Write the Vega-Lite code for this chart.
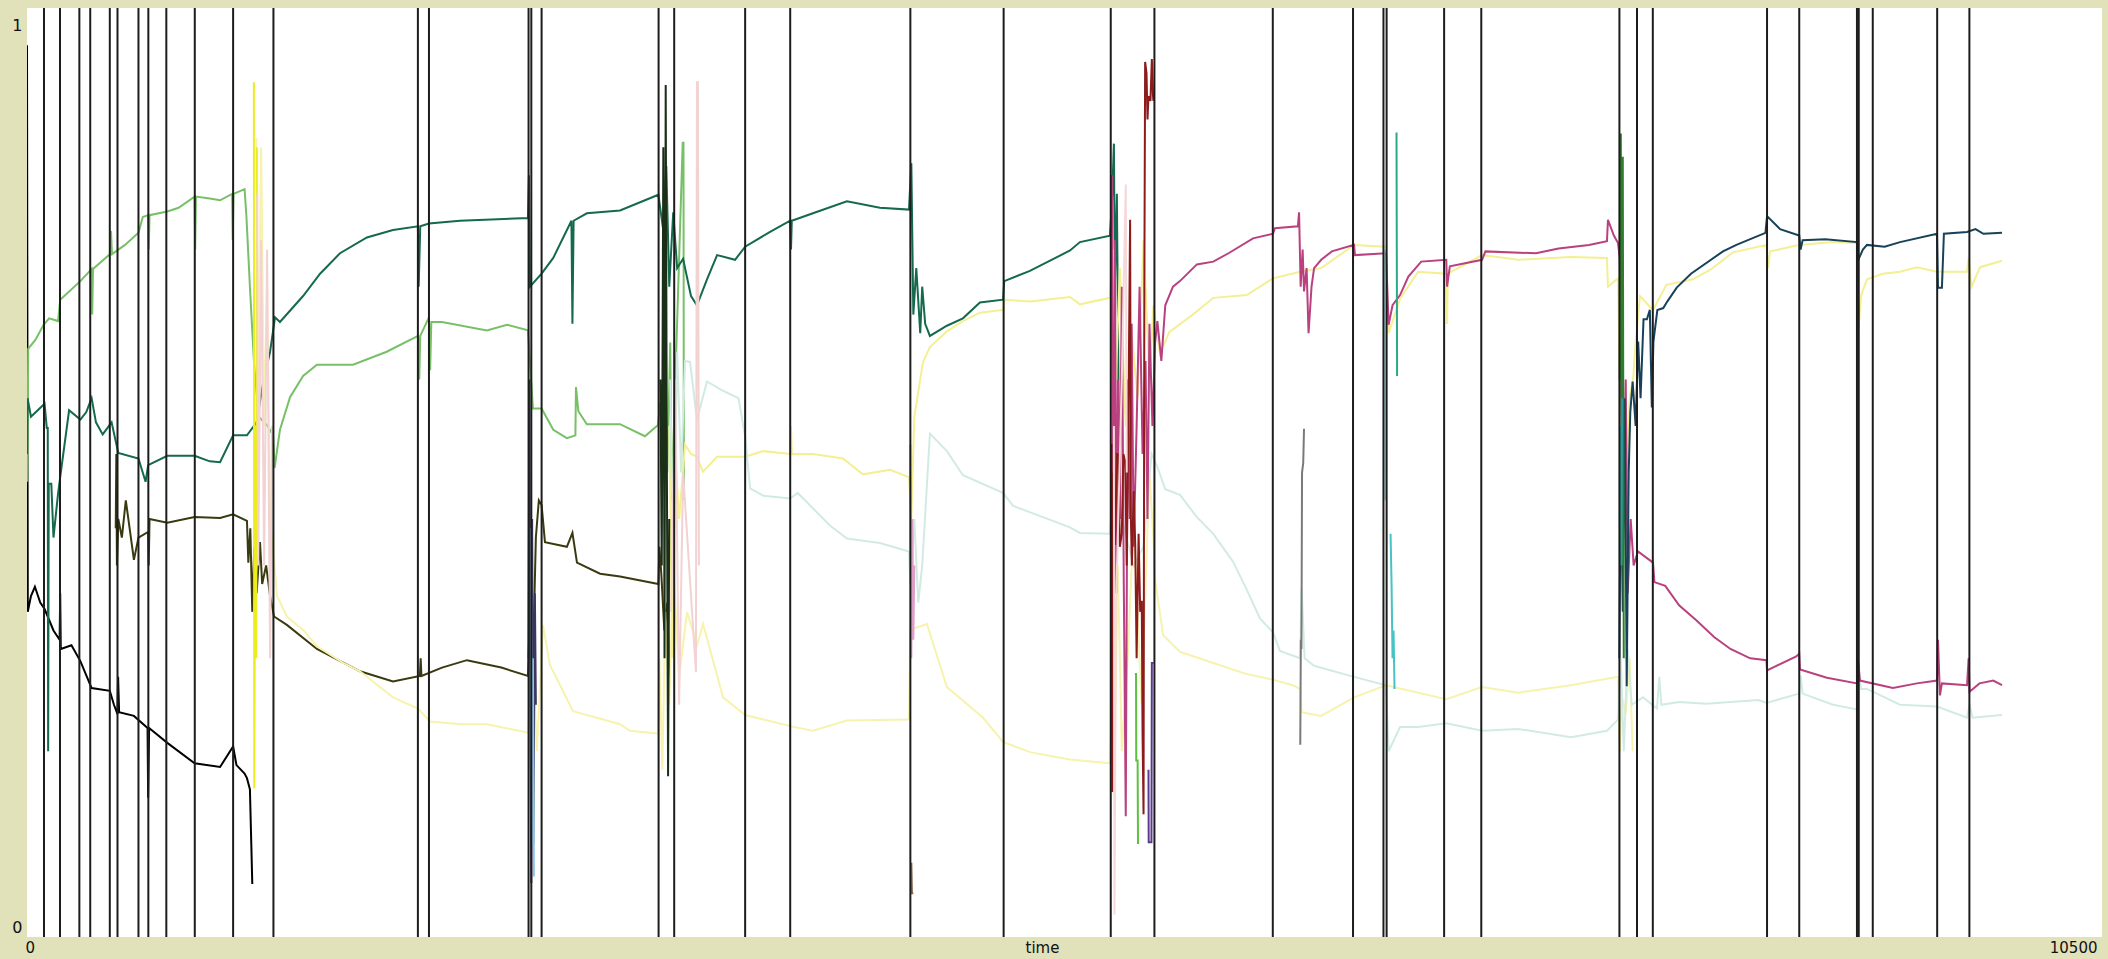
{
"$schema": "https://vega.github.io/schema/vega-lite/v6.json",
"width": 2075, "height": 929,
"autosize": {"type": "none"},
"padding": {"left": 27, "top": 8, "right": 6, "bottom": 22},
"background": "#e1e1ba",
"config": {"view": {"fill": "white", "stroke": null}},
"datasets": {
"events": [{"t":86},{"t":167},{"t":265},{"t":320},{"t":419},{"t":458},{"t":564},{"t":614},{"t":705},{"t":849},{"t":1043},{"t":1247},{"t":1978},{"t":2034},{"t":2538},{"t":2552},{"t":2604},{"t":3196},{"t":3275},{"t":3634},{"t":3862},{"t":4470},{"t":4942},{"t":5484},{"t":5705},{"t":6304},{"t":6710},{"t":6864},{"t":6880},{"t":7171},{"t":7359},{"t":8058},{"t":8147},{"t":8227},{"t":8805},{"t":8968},{"t":9260},{"t":9269},{"t":9340},{"t":9666},{"t":9829}],
"series": [
{"s":"black","t":0,"v":0.96},{"s":"black","t":4,"v":0.35},{"s":"black","t":20,"v":0.367},{"s":"black","t":40,"v":0.377},{"s":"black","t":67,"v":0.36},{"s":"black","t":89,"v":0.353},{"s":"black","t":134,"v":0.33},{"s":"black","t":165,"v":0.32},{"s":"black","t":168,"v":0.37},{"s":"black","t":171,"v":0.31},{"s":"black","t":225,"v":0.314},{"s":"black","t":270,"v":0.297},{"s":"black","t":327,"v":0.268},{"s":"black","t":419,"v":0.265},{"s":"black","t":440,"v":0.25},{"s":"black","t":458,"v":0.24},{"s":"black","t":461,"v":0.28},{"s":"black","t":466,"v":0.242},{"s":"black","t":541,"v":0.238},{"s":"black","t":610,"v":0.225},{"s":"black","t":613,"v":0.15},{"s":"black","t":618,"v":0.225},{"s":"black","t":710,"v":0.209},{"s":"black","t":848,"v":0.187},{"s":"black","t":977,"v":0.183},{"s":"black","t":1043,"v":0.205},{"s":"black","t":1060,"v":0.185},{"s":"black","t":1101,"v":0.176},{"s":"black","t":1113,"v":0.171},{"s":"black","t":1128,"v":0.159},{"s":"black","t":1135,"v":0.1},{"s":"black","t":1140,"v":0.057},
{"s":"lgreen","t":0,"v":0.58},{"s":"lgreen","t":2,"v":0.49},{"s":"lgreen","t":6,"v":0.633},{"s":"lgreen","t":43,"v":0.643},{"s":"lgreen","t":84,"v":0.659},{"s":"lgreen","t":112,"v":0.666},{"s":"lgreen","t":157,"v":0.663},{"s":"lgreen","t":168,"v":0.686},{"s":"lgreen","t":270,"v":0.706},{"s":"lgreen","t":327,"v":0.719},{"s":"lgreen","t":330,"v":0.67},{"s":"lgreen","t":334,"v":0.719},{"s":"lgreen","t":419,"v":0.735},{"s":"lgreen","t":425,"v":0.76},{"s":"lgreen","t":430,"v":0.735},{"s":"lgreen","t":496,"v":0.745},{"s":"lgreen","t":564,"v":0.758},{"s":"lgreen","t":586,"v":0.775},{"s":"lgreen","t":613,"v":0.777},{"s":"lgreen","t":616,"v":0.74},{"s":"lgreen","t":620,"v":0.777},{"s":"lgreen","t":710,"v":0.781},{"s":"lgreen","t":767,"v":0.785},{"s":"lgreen","t":848,"v":0.797},{"s":"lgreen","t":851,"v":0.74},{"s":"lgreen","t":855,"v":0.797},{"s":"lgreen","t":925,"v":0.795},{"s":"lgreen","t":977,"v":0.793},{"s":"lgreen","t":1038,"v":0.8},{"s":"lgreen","t":1041,"v":0.75},{"s":"lgreen","t":1045,"v":0.8},{"s":"lgreen","t":1101,"v":0.805},{"s":"lgreen","t":1110,"v":0.777},{"s":"lgreen","t":1128,"v":0.7},{"s":"lgreen","t":1150,"v":0.613},{"s":"lgreen","t":1173,"v":0.56},{"s":"lgreen","t":1218,"v":0.55},{"s":"lgreen","t":1245,"v":0.54},{"s":"lgreen","t":1253,"v":0.505},{"s":"lgreen","t":1280,"v":0.546},{"s":"lgreen","t":1331,"v":0.581},{"s":"lgreen","t":1397,"v":0.604},{"s":"lgreen","t":1467,"v":0.616},{"s":"lgreen","t":1650,"v":0.616},{"s":"lgreen","t":1820,"v":0.63},{"s":"lgreen","t":1979,"v":0.647},{"s":"lgreen","t":1985,"v":0.6},{"s":"lgreen","t":1990,"v":0.647},{"s":"lgreen","t":2034,"v":0.667},{"s":"lgreen","t":2040,"v":0.61},{"s":"lgreen","t":2046,"v":0.662},{"s":"lgreen","t":2100,"v":0.662},{"s":"lgreen","t":2327,"v":0.653},{"s":"lgreen","t":2429,"v":0.659},{"s":"lgreen","t":2535,"v":0.653},{"s":"lgreen","t":2560,"v":0.569},{"s":"lgreen","t":2604,"v":0.569},{"s":"lgreen","t":2663,"v":0.546},{"s":"lgreen","t":2732,"v":0.537},{"s":"lgreen","t":2775,"v":0.54},{"s":"lgreen","t":2778,"v":0.592},{"s":"lgreen","t":2790,"v":0.566},{"s":"lgreen","t":2833,"v":0.552},{"s":"lgreen","t":3001,"v":0.552},{"s":"lgreen","t":3127,"v":0.539},{"s":"lgreen","t":3193,"v":0.551},{"s":"lgreen","t":3203,"v":0.574},{"s":"lgreen","t":3230,"v":0.58},{"s":"lgreen","t":3240,"v":0.5},{"s":"lgreen","t":3255,"v":0.64},{"s":"lgreen","t":3262,"v":0.47},{"s":"lgreen","t":3318,"v":0.855},{"s":"lgreen","t":3322,"v":0.855},{"s":"lgreen","t":3324,"v":0.47},
{"s":"teal","t":0,"v":0.52},{"s":"teal","t":3,"v":0.58},{"s":"teal","t":20,"v":0.56},{"s":"teal","t":89,"v":0.574},{"s":"teal","t":100,"v":0.548},{"s":"teal","t":105,"v":0.548},{"s":"teal","t":107,"v":0.2},{"s":"teal","t":110,"v":0.488},{"s":"teal","t":123,"v":0.488},{"s":"teal","t":134,"v":0.43},{"s":"teal","t":157,"v":0.477},{"s":"teal","t":168,"v":0.495},{"s":"teal","t":213,"v":0.567},{"s":"teal","t":270,"v":0.557},{"s":"teal","t":300,"v":0.565},{"s":"teal","t":327,"v":0.58},{"s":"teal","t":349,"v":0.554},{"s":"teal","t":383,"v":0.541},{"s":"teal","t":428,"v":0.554},{"s":"teal","t":462,"v":0.521},{"s":"teal","t":564,"v":0.515},{"s":"teal","t":600,"v":0.49},{"s":"teal","t":613,"v":0.508},{"s":"teal","t":710,"v":0.518},{"s":"teal","t":848,"v":0.518},{"s":"teal","t":925,"v":0.512},{"s":"teal","t":977,"v":0.511},{"s":"teal","t":1043,"v":0.54},{"s":"teal","t":1113,"v":0.54},{"s":"teal","t":1162,"v":0.554},{"s":"teal","t":1196,"v":0.598},{"s":"teal","t":1230,"v":0.63},{"s":"teal","t":1255,"v":0.667},{"s":"teal","t":1280,"v":0.662},{"s":"teal","t":1397,"v":0.69},{"s":"teal","t":1483,"v":0.714},{"s":"teal","t":1584,"v":0.736},{"s":"teal","t":1720,"v":0.753},{"s":"teal","t":1852,"v":0.761},{"s":"teal","t":1978,"v":0.765},{"s":"teal","t":1982,"v":0.7},{"s":"teal","t":1990,"v":0.765},{"s":"teal","t":2034,"v":0.768},{"s":"teal","t":2191,"v":0.771},{"s":"teal","t":2535,"v":0.774},{"s":"teal","t":2540,"v":0.82},{"s":"teal","t":2545,"v":0.7},{"s":"teal","t":2604,"v":0.714},{"s":"teal","t":2663,"v":0.731},{"s":"teal","t":2755,"v":0.771},{"s":"teal","t":2760,"v":0.66},{"s":"teal","t":2766,"v":0.771},{"s":"teal","t":2833,"v":0.779},{"s":"teal","t":3001,"v":0.782},{"s":"teal","t":3195,"v":0.799},{"s":"teal","t":3220,"v":0.76},{"s":"teal","t":3235,"v":0.83},{"s":"teal","t":3250,"v":0.7},{"s":"teal","t":3270,"v":0.78},{"s":"teal","t":3290,"v":0.72},{"s":"teal","t":3320,"v":0.73},{"s":"teal","t":3360,"v":0.69},{"s":"teal","t":3390,"v":0.68},{"s":"teal","t":3441,"v":0.708},{"s":"teal","t":3492,"v":0.734},{"s":"teal","t":3583,"v":0.729},{"s":"teal","t":3634,"v":0.743},{"s":"teal","t":3760,"v":0.759},{"s":"teal","t":3862,"v":0.771},{"s":"teal","t":3866,"v":0.74},{"s":"teal","t":3870,"v":0.771},{"s":"teal","t":3977,"v":0.779},{"s":"teal","t":4149,"v":0.792},{"s":"teal","t":4316,"v":0.785},{"s":"teal","t":4463,"v":0.783},{"s":"teal","t":4475,"v":0.833},{"s":"teal","t":4485,"v":0.67},{"s":"teal","t":4500,"v":0.72},{"s":"teal","t":4520,"v":0.65},{"s":"teal","t":4530,"v":0.7},{"s":"teal","t":4545,"v":0.66},{"s":"teal","t":4569,"v":0.647},{"s":"teal","t":4655,"v":0.658},{"s":"teal","t":4736,"v":0.666},{"s":"teal","t":4822,"v":0.683},{"s":"teal","t":4939,"v":0.686},{"s":"teal","t":4945,"v":0.706},{"s":"teal","t":5075,"v":0.717},{"s":"teal","t":5278,"v":0.739},{"s":"teal","t":5328,"v":0.748},{"s":"teal","t":5480,"v":0.755},{"s":"teal","t":5490,"v":0.79},{"s":"teal","t":5500,"v":0.854},{"s":"teal","t":5505,"v":0.7},{"s":"teal","t":5515,"v":0.8},{"s":"teal","t":5525,"v":0.549},
{"s":"olive","t":449,"v":0.44},{"s":"olive","t":452,"v":0.52},{"s":"olive","t":455,"v":0.4},{"s":"olive","t":462,"v":0.45},{"s":"olive","t":480,"v":0.43},{"s":"olive","t":500,"v":0.47},{"s":"olive","t":541,"v":0.406},{"s":"olive","t":564,"v":0.43},{"s":"olive","t":613,"v":0.436},{"s":"olive","t":616,"v":0.4},{"s":"olive","t":620,"v":0.45},{"s":"olive","t":710,"v":0.446},{"s":"olive","t":848,"v":0.452},{"s":"olive","t":977,"v":0.451},{"s":"olive","t":1043,"v":0.455},{"s":"olive","t":1113,"v":0.448},{"s":"olive","t":1120,"v":0.403},{"s":"olive","t":1130,"v":0.44},{"s":"olive","t":1140,"v":0.35},{"s":"olive","t":1150,"v":0.42},{"s":"olive","t":1162,"v":0.37},{"s":"olive","t":1179,"v":0.425},{"s":"olive","t":1190,"v":0.38},{"s":"olive","t":1210,"v":0.4},{"s":"olive","t":1230,"v":0.367},{"s":"olive","t":1250,"v":0.345},{"s":"olive","t":1315,"v":0.336},{"s":"olive","t":1467,"v":0.31},{"s":"olive","t":1685,"v":0.286},{"s":"olive","t":1852,"v":0.275},{"s":"olive","t":1988,"v":0.281},{"s":"olive","t":1992,"v":0.3},{"s":"olive","t":1996,"v":0.281},{"s":"olive","t":2100,"v":0.29},{"s":"olive","t":2226,"v":0.298},{"s":"olive","t":2400,"v":0.29},{"s":"olive","t":2535,"v":0.281},{"s":"olive","t":2545,"v":0.35},{"s":"olive","t":2555,"v":0.25},{"s":"olive","t":2575,"v":0.43},{"s":"olive","t":2590,"v":0.47},{"s":"olive","t":2604,"v":0.465},{"s":"olive","t":2621,"v":0.425},{"s":"olive","t":2732,"v":0.42},{"s":"olive","t":2760,"v":0.435},{"s":"olive","t":2783,"v":0.403},{"s":"olive","t":2900,"v":0.391},{"s":"olive","t":3001,"v":0.388},{"s":"olive","t":3195,"v":0.38},{"s":"olive","t":3200,"v":0.42},{"s":"olive","t":3210,"v":0.39},{"s":"olive","t":3225,"v":0.33},{"s":"olive","t":3240,"v":0.36},{"s":"olive","t":3250,"v":0.28},
{"s":"ylow","t":1160,"v":0.86},{"s":"ylow","t":1170,"v":0.6},{"s":"ylow","t":1185,"v":0.85},{"s":"ylow","t":1200,"v":0.55},{"s":"ylow","t":1215,"v":0.7},{"s":"ylow","t":1230,"v":0.45},{"s":"ylow","t":1245,"v":0.42},{"s":"ylow","t":1265,"v":0.367},{"s":"ylow","t":1315,"v":0.345},{"s":"ylow","t":1400,"v":0.33},{"s":"ylow","t":1467,"v":0.313},{"s":"ylow","t":1600,"v":0.295},{"s":"ylow","t":1685,"v":0.286},{"s":"ylow","t":1852,"v":0.258},{"s":"ylow","t":1979,"v":0.246},{"s":"ylow","t":2039,"v":0.232},{"s":"ylow","t":2200,"v":0.229},{"s":"ylow","t":2327,"v":0.229},{"s":"ylow","t":2535,"v":0.22},{"s":"ylow","t":2560,"v":0.3},{"s":"ylow","t":2580,"v":0.2},{"s":"ylow","t":2611,"v":0.336},{"s":"ylow","t":2646,"v":0.293},{"s":"ylow","t":2763,"v":0.243},{"s":"ylow","t":3001,"v":0.229},{"s":"ylow","t":3051,"v":0.222},{"s":"ylow","t":3193,"v":0.219},{"s":"ylow","t":3200,"v":0.3},{"s":"ylow","t":3215,"v":0.18},{"s":"ylow","t":3230,"v":0.35},{"s":"ylow","t":3250,"v":0.25},{"s":"ylow","t":3270,"v":0.4},{"s":"ylow","t":3300,"v":0.28},{"s":"ylow","t":3340,"v":0.35},{"s":"ylow","t":3390,"v":0.314},{"s":"ylow","t":3421,"v":0.337},{"s":"ylow","t":3522,"v":0.258},{"s":"ylow","t":3634,"v":0.239},{"s":"ylow","t":3862,"v":0.227},{"s":"ylow","t":3977,"v":0.222},{"s":"ylow","t":4149,"v":0.233},{"s":"ylow","t":4463,"v":0.234},{"s":"ylow","t":4470,"v":0.331},{"s":"ylow","t":4554,"v":0.337},{"s":"ylow","t":4655,"v":0.269},{"s":"ylow","t":4838,"v":0.236},{"s":"ylow","t":4939,"v":0.21},{"s":"ylow","t":5075,"v":0.199},{"s":"ylow","t":5278,"v":0.191},{"s":"ylow","t":5480,"v":0.187},{"s":"ylow","t":5490,"v":0.25},{"s":"ylow","t":5500,"v":0.15},{"s":"ylow","t":5520,"v":0.4},{"s":"ylow","t":5540,"v":0.2},{"s":"ylow","t":5570,"v":0.3},{"s":"ylow","t":5600,"v":0.45},{"s":"ylow","t":5640,"v":0.25},{"s":"ylow","t":5680,"v":0.5},{"s":"ylow","t":5700,"v":0.43},{"s":"ylow","t":5708,"v":0.385},{"s":"ylow","t":5749,"v":0.325},{"s":"ylow","t":5834,"v":0.307},{"s":"ylow","t":6003,"v":0.295},{"s":"ylow","t":6172,"v":0.283},{"s":"ylow","t":6305,"v":0.277},{"s":"ylow","t":6406,"v":0.271},{"s":"ylow","t":6442,"v":0.267},{"s":"ylow","t":6450,"v":0.242},{"s":"ylow","t":6549,"v":0.238},{"s":"ylow","t":6715,"v":0.258},{"s":"ylow","t":6877,"v":0.271},{"s":"ylow","t":7182,"v":0.256},{"s":"ylow","t":7363,"v":0.269},{"s":"ylow","t":7545,"v":0.263},{"s":"ylow","t":7813,"v":0.271},{"s":"ylow","t":7995,"v":0.278},{"s":"ylow","t":8051,"v":0.28},{"s":"ylow","t":8060,"v":0.2},{"s":"ylow","t":8070,"v":0.26},{"s":"ylow","t":8090,"v":0.24},{"s":"ylow","t":8110,"v":0.3},{"s":"ylow","t":8125,"v":0.2},
{"s":"yup","t":3250,"v":0.55},{"s":"yup","t":3265,"v":0.3},{"s":"yup","t":3280,"v":0.52},{"s":"yup","t":3300,"v":0.45},{"s":"yup","t":3330,"v":0.53},{"s":"yup","t":3360,"v":0.52},{"s":"yup","t":3390,"v":0.517},{"s":"yup","t":3420,"v":0.501},{"s":"yup","t":3492,"v":0.517},{"s":"yup","t":3634,"v":0.517},{"s":"yup","t":3726,"v":0.523},{"s":"yup","t":3862,"v":0.52},{"s":"yup","t":3866,"v":0.55},{"s":"yup","t":3870,"v":0.52},{"s":"yup","t":3977,"v":0.52},{"s":"yup","t":4129,"v":0.515},{"s":"yup","t":4230,"v":0.498},{"s":"yup","t":4367,"v":0.503},{"s":"yup","t":4463,"v":0.495},{"s":"yup","t":4475,"v":0.45},{"s":"yup","t":4490,"v":0.56},{"s":"yup","t":4534,"v":0.619},{"s":"yup","t":4569,"v":0.635},{"s":"yup","t":4655,"v":0.652},{"s":"yup","t":4736,"v":0.663},{"s":"yup","t":4822,"v":0.672},{"s":"yup","t":4939,"v":0.675},{"s":"yup","t":4945,"v":0.686},{"s":"yup","t":5075,"v":0.684},{"s":"yup","t":5278,"v":0.689},{"s":"yup","t":5328,"v":0.681},{"s":"yup","t":5480,"v":0.688},{"s":"yup","t":5495,"v":0.74},{"s":"yup","t":5510,"v":0.6},{"s":"yup","t":5530,"v":0.72},{"s":"yup","t":5560,"v":0.55},{"s":"yup","t":5590,"v":0.65},{"s":"yup","t":5620,"v":0.58},{"s":"yup","t":5650,"v":0.75},{"s":"yup","t":5680,"v":0.6},{"s":"yup","t":5700,"v":0.68},{"s":"yup","t":5733,"v":0.628},{"s":"yup","t":5780,"v":0.651},{"s":"yup","t":5900,"v":0.67},{"s":"yup","t":6003,"v":0.688},{"s":"yup","t":6172,"v":0.691},{"s":"yup","t":6305,"v":0.709},{"s":"yup","t":6442,"v":0.716},{"s":"yup","t":6549,"v":0.72},{"s":"yup","t":6715,"v":0.745},{"s":"yup","t":6877,"v":0.743},{"s":"yup","t":6890,"v":0.65},{"s":"yup","t":6948,"v":0.687},{"s":"yup","t":7039,"v":0.716},{"s":"yup","t":7182,"v":0.714},{"s":"yup","t":7186,"v":0.66},{"s":"yup","t":7190,"v":0.714},{"s":"yup","t":7363,"v":0.734},{"s":"yup","t":7545,"v":0.729},{"s":"yup","t":7813,"v":0.732},{"s":"yup","t":7995,"v":0.731},{"s":"yup","t":8000,"v":0.7},{"s":"yup","t":8051,"v":0.709},{"s":"yup","t":8060,"v":0.6},{"s":"yup","t":8080,"v":0.55},{"s":"yup","t":8095,"v":0.5},{"s":"yup","t":8110,"v":0.58},{"s":"yup","t":8128,"v":0.603},{"s":"yup","t":8140,"v":0.64},{"s":"yup","t":8162,"v":0.69},{"s":"yup","t":8228,"v":0.675},{"s":"yup","t":8296,"v":0.702},{"s":"yup","t":8430,"v":0.708},{"s":"yup","t":8517,"v":0.718},{"s":"yup","t":8633,"v":0.737},{"s":"yup","t":8802,"v":0.745},{"s":"yup","t":8810,"v":0.72},{"s":"yup","t":8820,"v":0.738},{"s":"yup","t":8968,"v":0.745},{"s":"yup","t":9139,"v":0.748},{"s":"yup","t":9260,"v":0.747},{"s":"yup","t":9265,"v":0.646},{"s":"yup","t":9280,"v":0.69},{"s":"yup","t":9311,"v":0.708},{"s":"yup","t":9391,"v":0.714},{"s":"yup","t":9478,"v":0.716},{"s":"yup","t":9563,"v":0.721},{"s":"yup","t":9665,"v":0.716},{"s":"yup","t":9817,"v":0.716},{"s":"yup","t":9825,"v":0.731},{"s":"yup","t":9840,"v":0.7},{"s":"yup","t":9883,"v":0.721},{"s":"yup","t":9994,"v":0.728},
{"s":"mint","t":3255,"v":0.6},{"s":"mint","t":3270,"v":0.4},{"s":"mint","t":3290,"v":0.63},{"s":"mint","t":3310,"v":0.5},{"s":"mint","t":3330,"v":0.62},{"s":"mint","t":3355,"v":0.619},{"s":"mint","t":3390,"v":0.557},{"s":"mint","t":3441,"v":0.598},{"s":"mint","t":3522,"v":0.588},{"s":"mint","t":3600,"v":0.58},{"s":"mint","t":3634,"v":0.539},{"s":"mint","t":3659,"v":0.483},{"s":"mint","t":3726,"v":0.475},{"s":"mint","t":3862,"v":0.472},{"s":"mint","t":3900,"v":0.478},{"s":"mint","t":4063,"v":0.443},{"s":"mint","t":4149,"v":0.429},{"s":"mint","t":4316,"v":0.424},{"s":"mint","t":4463,"v":0.415},{"s":"mint","t":4470,"v":0.38},{"s":"mint","t":4490,"v":0.45},{"s":"mint","t":4510,"v":0.36},{"s":"mint","t":4530,"v":0.4},{"s":"mint","t":4569,"v":0.542},{"s":"mint","t":4655,"v":0.523},{"s":"mint","t":4736,"v":0.497},{"s":"mint","t":4939,"v":0.478},{"s":"mint","t":4990,"v":0.464},{"s":"mint","t":5278,"v":0.441},{"s":"mint","t":5328,"v":0.435},{"s":"mint","t":5480,"v":0.434},{"s":"mint","t":5500,"v":0.5},{"s":"mint","t":5540,"v":0.45},{"s":"mint","t":5600,"v":0.4},{"s":"mint","t":5650,"v":0.42},{"s":"mint","t":5690,"v":0.52},{"s":"mint","t":5718,"v":0.507},{"s":"mint","t":5760,"v":0.482},{"s":"mint","t":5834,"v":0.476},{"s":"mint","t":5920,"v":0.452},{"s":"mint","t":6003,"v":0.434},{"s":"mint","t":6103,"v":0.404},{"s":"mint","t":6172,"v":0.374},{"s":"mint","t":6239,"v":0.343},{"s":"mint","t":6305,"v":0.328},{"s":"mint","t":6340,"v":0.308},{"s":"mint","t":6442,"v":0.3},{"s":"mint","t":6450,"v":0.375},{"s":"mint","t":6465,"v":0.3},{"s":"mint","t":6513,"v":0.292},{"s":"mint","t":6715,"v":0.28},{"s":"mint","t":6877,"v":0.271},{"s":"mint","t":6890,"v":0.2},{"s":"mint","t":6948,"v":0.226},{"s":"mint","t":7039,"v":0.226},{"s":"mint","t":7182,"v":0.23},{"s":"mint","t":7363,"v":0.222},{"s":"mint","t":7545,"v":0.224},{"s":"mint","t":7813,"v":0.215},{"s":"mint","t":7995,"v":0.222},{"s":"mint","t":8051,"v":0.234},{"s":"mint","t":8065,"v":0.3},{"s":"mint","t":8080,"v":0.2},{"s":"mint","t":8100,"v":0.31},{"s":"mint","t":8120,"v":0.25},{"s":"mint","t":8177,"v":0.258},{"s":"mint","t":8248,"v":0.246},{"s":"mint","t":8260,"v":0.28},{"s":"mint","t":8270,"v":0.25},{"s":"mint","t":8360,"v":0.253},{"s":"mint","t":8498,"v":0.251},{"s":"mint","t":8762,"v":0.255},{"s":"mint","t":8802,"v":0.252},{"s":"mint","t":8968,"v":0.262},{"s":"mint","t":8975,"v":0.281},{"s":"mint","t":8985,"v":0.262},{"s":"mint","t":9139,"v":0.25},{"s":"mint","t":9260,"v":0.245},{"s":"mint","t":9265,"v":0.296},{"s":"mint","t":9280,"v":0.267},{"s":"mint","t":9311,"v":0.267},{"s":"mint","t":9478,"v":0.25},{"s":"mint","t":9665,"v":0.248},{"s":"mint","t":9817,"v":0.236},{"s":"mint","t":9830,"v":0.25},{"s":"mint","t":9845,"v":0.236},{"s":"mint","t":9994,"v":0.239},
{"s":"magenta","t":5490,"v":0.82},{"s":"magenta","t":5495,"v":0.4},{"s":"magenta","t":5505,"v":0.75},{"s":"magenta","t":5512,"v":0.37},{"s":"magenta","t":5520,"v":0.6},{"s":"magenta","t":5530,"v":0.45},{"s":"magenta","t":5540,"v":0.7},{"s":"magenta","t":5550,"v":0.38},{"s":"magenta","t":5560,"v":0.13},{"s":"magenta","t":5570,"v":0.6},{"s":"magenta","t":5580,"v":0.45},{"s":"magenta","t":5590,"v":0.66},{"s":"magenta","t":5600,"v":0.42},{"s":"magenta","t":5615,"v":0.55},{"s":"magenta","t":5630,"v":0.7},{"s":"magenta","t":5645,"v":0.52},{"s":"magenta","t":5660,"v":0.62},{"s":"magenta","t":5670,"v":0.45},{"s":"magenta","t":5680,"v":0.66},{"s":"magenta","t":5695,"v":0.55},{"s":"magenta","t":5708,"v":0.639},{"s":"magenta","t":5720,"v":0.663},{"s":"magenta","t":5740,"v":0.62},{"s":"magenta","t":5760,"v":0.68},{"s":"magenta","t":5799,"v":0.7},{"s":"magenta","t":5834,"v":0.706},{"s":"magenta","t":5920,"v":0.724},{"s":"magenta","t":6003,"v":0.727},{"s":"magenta","t":6080,"v":0.736},{"s":"magenta","t":6204,"v":0.752},{"s":"magenta","t":6305,"v":0.757},{"s":"magenta","t":6315,"v":0.763},{"s":"magenta","t":6431,"v":0.765},{"s":"magenta","t":6437,"v":0.78},{"s":"magenta","t":6445,"v":0.7},{"s":"magenta","t":6455,"v":0.74},{"s":"magenta","t":6462,"v":0.695},{"s":"magenta","t":6475,"v":0.72},{"s":"magenta","t":6485,"v":0.65},{"s":"magenta","t":6500,"v":0.7},{"s":"magenta","t":6513,"v":0.72},{"s":"magenta","t":6549,"v":0.729},{"s":"magenta","t":6603,"v":0.738},{"s":"magenta","t":6715,"v":0.745},{"s":"magenta","t":6720,"v":0.734},{"s":"magenta","t":6877,"v":0.736},{"s":"magenta","t":6890,"v":0.659},{"s":"magenta","t":6910,"v":0.68},{"s":"magenta","t":6948,"v":0.691},{"s":"magenta","t":6990,"v":0.711},{"s":"magenta","t":7055,"v":0.727},{"s":"magenta","t":7182,"v":0.729},{"s":"magenta","t":7186,"v":0.7},{"s":"magenta","t":7200,"v":0.722},{"s":"magenta","t":7363,"v":0.729},{"s":"magenta","t":7380,"v":0.738},{"s":"magenta","t":7636,"v":0.736},{"s":"magenta","t":7750,"v":0.741},{"s":"magenta","t":7904,"v":0.745},{"s":"magenta","t":7995,"v":0.749},{"s":"magenta","t":8000,"v":0.772},{"s":"magenta","t":8030,"v":0.755},{"s":"magenta","t":8051,"v":0.747},{"s":"magenta","t":8060,"v":0.73},{"s":"magenta","t":8075,"v":0.45},{"s":"magenta","t":8090,"v":0.6},{"s":"magenta","t":8100,"v":0.37},{"s":"magenta","t":8115,"v":0.45},{"s":"magenta","t":8130,"v":0.4},{"s":"magenta","t":8152,"v":0.415},{"s":"magenta","t":8228,"v":0.403},{"s":"magenta","t":8235,"v":0.382},{"s":"magenta","t":8290,"v":0.378},{"s":"magenta","t":8360,"v":0.357},{"s":"magenta","t":8447,"v":0.341},{"s":"magenta","t":8537,"v":0.323},{"s":"magenta","t":8620,"v":0.31},{"s":"magenta","t":8720,"v":0.3},{"s":"magenta","t":8802,"v":0.298},{"s":"magenta","t":8805,"v":0.287},{"s":"magenta","t":8953,"v":0.302},{"s":"magenta","t":8968,"v":0.305},{"s":"magenta","t":8972,"v":0.288},{"s":"magenta","t":9108,"v":0.279},{"s":"magenta","t":9260,"v":0.273},{"s":"magenta","t":9265,"v":0.3},{"s":"magenta","t":9275,"v":0.276},{"s":"magenta","t":9442,"v":0.268},{"s":"magenta","t":9563,"v":0.273},{"s":"magenta","t":9665,"v":0.276},{"s":"magenta","t":9670,"v":0.32},{"s":"magenta","t":9680,"v":0.26},{"s":"magenta","t":9690,"v":0.273},{"s":"magenta","t":9817,"v":0.271},{"s":"magenta","t":9825,"v":0.3},{"s":"magenta","t":9830,"v":0.264},{"s":"magenta","t":9880,"v":0.273},{"s":"magenta","t":9950,"v":0.276},{"s":"magenta","t":9994,"v":0.271},
{"s":"navy","t":8058,"v":0.3},{"s":"navy","t":8065,"v":0.52},{"s":"navy","t":8075,"v":0.35},{"s":"navy","t":8085,"v":0.58},{"s":"navy","t":8095,"v":0.27},{"s":"navy","t":8105,"v":0.5},{"s":"navy","t":8113,"v":0.565},{"s":"navy","t":8125,"v":0.598},{"s":"navy","t":8140,"v":0.55},{"s":"navy","t":8153,"v":0.641},{"s":"navy","t":8165,"v":0.58},{"s":"navy","t":8180,"v":0.665},{"s":"navy","t":8197,"v":0.665},{"s":"navy","t":8212,"v":0.675},{"s":"navy","t":8222,"v":0.57},{"s":"navy","t":8230,"v":0.641},{"s":"navy","t":8250,"v":0.675},{"s":"navy","t":8280,"v":0.677},{"s":"navy","t":8300,"v":0.684},{"s":"navy","t":8348,"v":0.699},{"s":"navy","t":8420,"v":0.714},{"s":"navy","t":8582,"v":0.738},{"s":"navy","t":8650,"v":0.745},{"s":"navy","t":8797,"v":0.758},{"s":"navy","t":8805,"v":0.776},{"s":"navy","t":8871,"v":0.762},{"s":"navy","t":8968,"v":0.755},{"s":"navy","t":8975,"v":0.74},{"s":"navy","t":8985,"v":0.75},{"s":"navy","t":9100,"v":0.751},{"s":"navy","t":9260,"v":0.748},{"s":"navy","t":9265,"v":0.728},{"s":"navy","t":9290,"v":0.74},{"s":"navy","t":9311,"v":0.745},{"s":"navy","t":9400,"v":0.743},{"s":"navy","t":9478,"v":0.748},{"s":"navy","t":9665,"v":0.757},{"s":"navy","t":9670,"v":0.699},{"s":"navy","t":9690,"v":0.699},{"s":"navy","t":9700,"v":0.757},{"s":"navy","t":9817,"v":0.759},{"s":"navy","t":9860,"v":0.762},{"s":"navy","t":9900,"v":0.757},{"s":"navy","t":9994,"v":0.758},
{"s":"darkred","t":5488,"v":0.531},{"s":"darkred","t":5492,"v":0.156},{"s":"darkred","t":5497,"v":0.5},{"s":"darkred","t":5506,"v":0.422},{"s":"darkred","t":5515,"v":0.52},{"s":"darkred","t":5523,"v":0.519},{"s":"darkred","t":5530,"v":0.42},{"s":"darkred","t":5540,"v":0.434},{"s":"darkred","t":5548,"v":0.52},{"s":"darkred","t":5557,"v":0.512},{"s":"darkred","t":5565,"v":0.4},{"s":"darkred","t":5575,"v":0.6},{"s":"darkred","t":5582,"v":0.772},{"s":"darkred","t":5586,"v":0.45},{"s":"darkred","t":5591,"v":0.4},{"s":"darkred","t":5600,"v":0.48},{"s":"darkred","t":5608,"v":0.422},{"s":"darkred","t":5615,"v":0.3},{"s":"darkred","t":5625,"v":0.434},{"s":"darkred","t":5633,"v":0.35},{"s":"darkred","t":5641,"v":0.362},{"s":"darkred","t":5645,"v":0.22},{"s":"darkred","t":5650,"v":0.132},{"s":"darkred","t":5654,"v":0.7},{"s":"darkred","t":5658,"v":0.942},{"s":"darkred","t":5665,"v":0.93},{"s":"darkred","t":5670,"v":0.88},{"s":"darkred","t":5675,"v":0.905},{"s":"darkred","t":5685,"v":0.9},{"s":"darkred","t":5692,"v":0.945},{"s":"darkred","t":5698,"v":0.905},{"s":"darkred","t":5700,"v":0.9},
{"s":"ybright","t":1148,"v":0.92},{"s":"ybright","t":1150,"v":0.16},{"s":"ybright","t":1156,"v":0.55},{"s":"ybright","t":1160,"v":0.3},{"s":"ybright","t":1163,"v":0.85},
{"s":"pk1","t":1165,"v":0.8},{"s":"pk1","t":1170,"v":0.4},{"s":"pk1","t":1185,"v":0.75},{"s":"pk1","t":1200,"v":0.4},{"s":"pk1","t":1215,"v":0.74},{"s":"pk1","t":1230,"v":0.3},{"s":"pk1","t":1240,"v":0.55},
{"s":"pk2","t":3260,"v":0.35},{"s":"pk2","t":3280,"v":0.6},{"s":"pk2","t":3300,"v":0.25},{"s":"pk2","t":3320,"v":0.5},{"s":"pk2","t":3385,"v":0.285},{"s":"pk2","t":3390,"v":0.92},{"s":"pk2","t":3395,"v":0.92},{"s":"pk2","t":3400,"v":0.4},
{"s":"pk3","t":5500,"v":0.55},{"s":"pk3","t":5503,"v":0.024},{"s":"pk3","t":5510,"v":0.35},{"s":"pk3","t":5540,"v":0.6},{"s":"pk3","t":5560,"v":0.81},{"s":"pk3","t":5565,"v":0.5},
{"s":"slate","t":2538,"v":0.3},{"s":"slate","t":2542,"v":0.6},{"s":"slate","t":2548,"v":0.2},{"s":"slate","t":2552,"v":0.058},{"s":"slate","t":2556,"v":0.45},{"s":"slate","t":2562,"v":0.1},{"s":"slate","t":2570,"v":0.37},{"s":"slate","t":2575,"v":0.25},
{"s":"lb1","t":2550,"v":0.44},{"s":"lb1","t":2555,"v":0.1},{"s":"lb1","t":2560,"v":0.3},{"s":"lb1","t":2565,"v":0.065},
{"s":"lb2","t":6870,"v":0.74},{"s":"lb2","t":6873,"v":0.47},
{"s":"cyan","t":6900,"v":0.434},{"s":"cyan","t":6905,"v":0.38},{"s":"cyan","t":6910,"v":0.3},{"s":"cyan","t":6915,"v":0.33},{"s":"cyan","t":6920,"v":0.267},
{"s":"tealb","t":6930,"v":0.866},{"s":"tealb","t":6933,"v":0.605},{"s":"tealb","t":6938,"v":0.605},
{"s":"gray","t":6443,"v":0.207},{"s":"gray","t":6446,"v":0.32},{"s":"gray","t":6449,"v":0.31},{"s":"gray","t":6452,"v":0.5},{"s":"gray","t":6458,"v":0.51},{"s":"gray","t":6462,"v":0.547},
{"s":"pink","t":4470,"v":0.53},{"s":"pink","t":4475,"v":0.3},{"s":"pink","t":4480,"v":0.45},{"s":"pink","t":4485,"v":0.32},{"s":"pink","t":4490,"v":0.4},
{"s":"brown","t":4475,"v":0.08},{"s":"brown","t":4478,"v":0.047},{"s":"brown","t":4485,"v":0.047},
{"s":"dkg","t":3205,"v":0.6},{"s":"dkg","t":3212,"v":0.4},{"s":"dkg","t":3220,"v":0.85},{"s":"dkg","t":3226,"v":0.3},{"s":"dkg","t":3232,"v":0.917},{"s":"dkg","t":3238,"v":0.5},{"s":"dkg","t":3244,"v":0.173},{"s":"dkg","t":3250,"v":0.45},
{"s":"g2","t":5606,"v":0.283},{"s":"g2","t":5612,"v":0.283},{"s":"g2","t":5613,"v":0.19},{"s":"g2","t":5620,"v":0.19},{"s":"g2","t":5622,"v":0.1},
{"s":"purple","t":5675,"v":0.18},{"s":"purple","t":5676,"v":0.102},{"s":"purple","t":5690,"v":0.102},{"s":"purple","t":5692,"v":0.295},{"s":"purple","t":5700,"v":0.295},
{"s":"g3","t":8060,"v":0.6},{"s":"g3","t":8065,"v":0.865},{"s":"g3","t":8070,"v":0.4},{"s":"g3","t":8075,"v":0.84},{"s":"g3","t":8080,"v":0.3},
{"s":"cy2","t":8062,"v":0.55},{"s":"cy2","t":8068,"v":0.4},{"s":"cy2","t":8072,"v":0.58}
]
},
"layer": [
{"data": {"name": "series"},
 "mark": {"type": "line", "strokeWidth": 2, "clip": true},
 "encoding": {
  "x": {"field": "t", "type": "quantitative", "scale": {"domain": [0, 10500], "nice": false, "zero": false},
   "axis": {"values": [0, 10500], "format": "d", "grid": false, "ticks": false, "domain": false, "labelFont": "DejaVu Sans", "labelFontSize": 15, "labelColor": "#111111", "labelPadding": 3, "labelBaseline": "top", "labelFlush": false, "labelOverlap": false,
    "labelAlign": {"condition": {"test": "datum.value == 0", "value": "left"}, "value": "right"},
    "labelOffset": {"condition": {"test": "datum.value == 0", "value": -2}, "value": -5},
    "title": "time", "titleFont": "DejaVu Sans", "titleFontSize": 15, "titleFontWeight": "normal", "titleColor": "#111111", "titleX": 1015, "titleY": 3, "titleBaseline": "top", "titleAlign": "center"}},
  "y": {"field": "v", "type": "quantitative", "scale": {"domain": [0, 1], "nice": false},
   "axis": {"values": [0, 1], "format": "d", "grid": false, "ticks": false, "domain": false, "labelFont": "DejaVu Sans", "labelFontSize": 16, "labelColor": "#111111", "labelPadding": 5, "labelBaseline": "middle", "labelFlush": false,
    "labelOffset": {"condition": {"test": "datum.value == 1", "value": 17}, "value": -10}, "title": null}},
  "color": {"field": "s", "type": "nominal", "legend": null,
   "scale": {"domain": ["black","lgreen","teal","olive","ylow","yup","mint","magenta","navy","darkred","ybright","pk1","pk2","pk3","slate","lb1","lb2","cyan","tealb","gray","pink","brown","dkg","g2","purple","g3","cy2"],
    "range": ["#000000","#78c067","#15694d","#3a3a10","#f7f3ae","#f4ef92","#d2ebe2","#b9417f","#19425a","#8c1c1c","#ecec20","#f2d2d2","#f2d2d2","#f7d8d8","#3b3560","#8fc5e6","#a8d4ea","#45c3c6","#2aa888","#7a7a7a","#dd9fc6","#8a6a50","#1a2e18","#5cc040","#5a3a8c","#2d7d2d","#2a9a9a"]}}
 }},
{"data": {"name": "events"},
 "mark": {"type": "rule", "color": "#1c1c1c", "strokeWidth": 2},
 "encoding": {"x": {"field": "t", "type": "quantitative"}}}
]
}
